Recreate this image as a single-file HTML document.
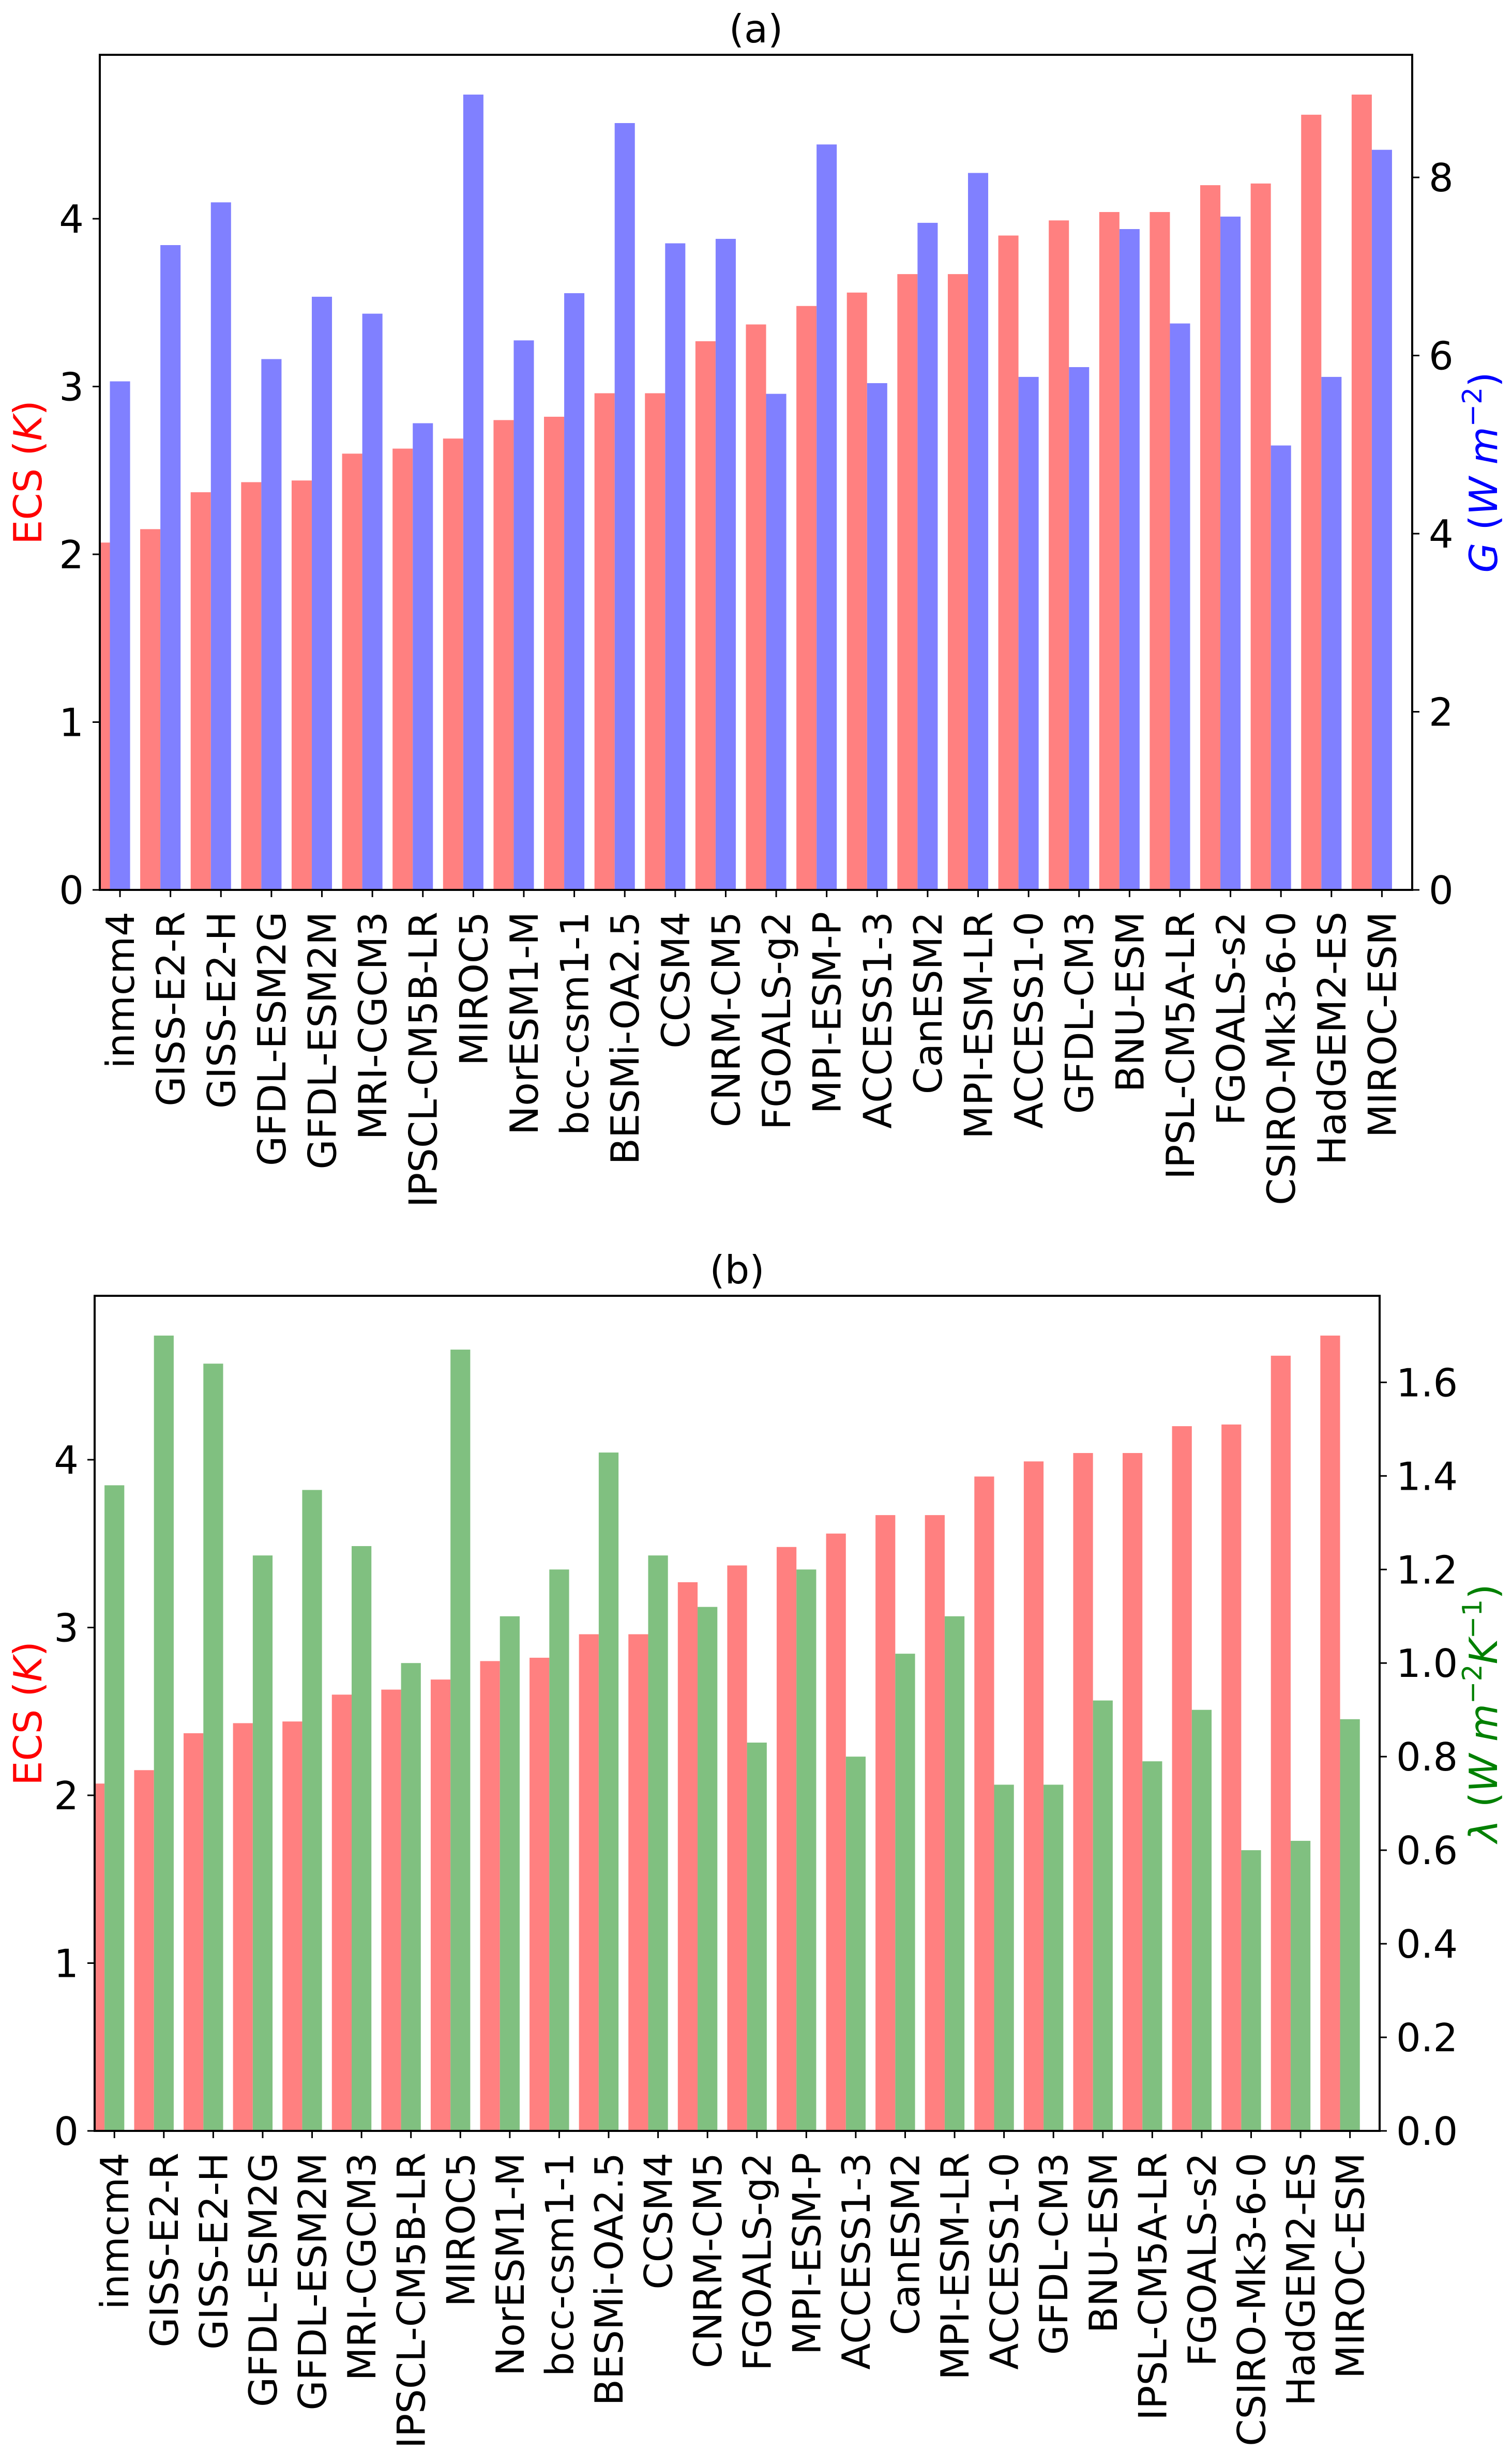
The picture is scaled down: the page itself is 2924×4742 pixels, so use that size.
<!DOCTYPE html>
<html><head><meta charset="utf-8"><title>ECS charts</title>
<style>html,body{margin:0;padding:0;background:#fff}svg{display:block}text{font-family:"DejaVu Sans","Liberation Sans",sans-serif}</style>
</head><body>
<svg id="fig" xmlns="http://www.w3.org/2000/svg" width="2924" height="4742" viewBox="0 0 2924 4742"></svg>
<script>
const models = ["inmcm4","GISS-E2-R","GISS-E2-H","GFDL-ESM2G","GFDL-ESM2M","MRI-CGCM3","IPSCL-CM5B-LR","MIROC5","NorESM1-M","bcc-csm1-1","BESMi-OA2.5","CCSM4","CNRM-CM5","FGOALS-g2","MPI-ESM-P","ACCESS1-3","CanESM2","MPI-ESM-LR","ACCESS1-0","GFDL-CM3","BNU-ESM","IPSL-CM5A-LR","FGOALS-s2","CSIRO-Mk3-6-0","HadGEM2-ES","MIROC-ESM"];
const ecs = [2.07,2.15,2.37,2.43,2.44,2.60,2.63,2.69,2.80,2.82,2.96,2.96,3.27,3.37,3.48,3.56,3.67,3.67,3.90,3.99,4.04,4.04,4.20,4.21,4.62,4.74];
const gVals = [5.71,7.24,7.72,5.96,6.66,6.47,5.24,8.93,6.17,6.70,8.61,7.26,7.31,5.57,8.37,5.69,7.49,8.05,5.76,5.87,7.42,6.36,7.56,4.99,5.76,8.31];
const lambdaVals = [1.38,1.70,1.64,1.23,1.37,1.25,1.00,1.67,1.10,1.20,1.45,1.23,1.12,0.83,1.20,0.80,1.02,1.10,0.74,0.74,0.92,0.79,0.90,0.60,0.62,0.88];
const ecsTicks = [0,1,2,3,4];
const gTicks = [0,2,4,6,8];
const lambdaTicks = [0,0.2,0.4,0.6,0.8,1.0,1.2,1.4,1.6];

const NS="http://www.w3.org/2000/svg";
const svg=document.getElementById('fig');
function el(tag,attrs,parent,text){const e=document.createElementNS(NS,tag);for(const k in attrs)e.setAttribute(k,attrs[k]);if(text!==undefined)e.textContent=text;(parent||svg).appendChild(e);return e;}

function panel(cfg){
  const g=el('g',{});
  
  
  const L=cfg.left,R=cfg.right,T=cfg.top,B=cfg.bottom;
  const n=models.length;
  const xs=v=>L+(v+0.4)/26*(R-L);
  const lMax=Math.max(...ecs)*1.05;
  const rMax=Math.max(...cfg.rVals)*1.05;
  const yl=v=>B-v/lMax*(B-T);
  const yr=v=>B-v/rMax*(B-T);
  const bw=0.4/26*(R-L);
  const clip=el('clipPath',{id:cfg.name+'-clip'},g);
  el('rect',{x:L,y:T,width:R-L,height:B-T},clip);
  const bars=el('g',{'clip-path':'url(#'+cfg.name+'-clip)'},g);
  for(let i=0;i<n;i++){
    const r=el('rect',{x:xs(i-0.6),y:yl(ecs[i]),width:bw,height:B-yl(ecs[i]),fill:'#ff8080'},bars);
    
    
    const b=el('rect',{x:xs(i-0.2),y:yr(cfg.rVals[i]),width:bw,height:B-yr(cfg.rVals[i]),fill:cfg.color},bars);
    
    
  }
  el('rect',{x:L,y:T,width:R-L,height:B-T,fill:'none',stroke:'#000','stroke-width':4},g);
  // x ticks
  for(let i=0;i<n;i++){
    const x=xs(i);
    el('line',{x1:x,y1:B,x2:x,y2:B+14,stroke:'#000','stroke-width':3},g);
    const t=el('text',{x:0,y:0,'font-size':75,'text-anchor':'end',transform:`translate(${x+27},${B+42}) rotate(-90)`},g,models[i]);
    
    
  }
  ecsTicks.forEach(v=>{const y=yl(v);
    el('line',{x1:L-14,y1:y,x2:L,y2:y,stroke:'#000','stroke-width':3},g);
    const t=el('text',{x:L-31,y:y+27,'font-size':75,'text-anchor':'end'},g,String(v));
    
    
  });
  cfg.rTicks.forEach(v=>{const y=yr(v);
    el('line',{x1:R,y1:y,x2:R+14,y2:y,stroke:'#000','stroke-width':3},g);
    const t=el('text',{x:R+32,y:y+27,'font-size':75,'text-anchor':'start'},g,cfg.fmt(v));
    
    
  });
  const title=el('text',{x:(L+R)/2,y:T-24,'font-size':75,'text-anchor':'middle'},g,cfg.title);
  
  
  const cy=(T+B)/2;
  const ly=el('text',{x:0,y:0,'font-size':75,'text-anchor':'middle',fill:'#ff0000',transform:`translate(80,${cy}) rotate(-90)`},g);
  
  
  ly.innerHTML='ECS (<tspan font-style="italic">K</tspan>)';
  const ry=el('text',{x:0,y:0,'font-size':75,'text-anchor':'middle',fill:cfg.labelColor,transform:`translate(2895,${cy}) rotate(-90)`},g);
  
  
  ry.innerHTML=cfg.rLabel;
}

panel({name:'panel-a',title:'(a)',left:193,right:2731,top:106,bottom:1721,rVals:gVals,rTicks:gTicks,color:'#8080ff',labelColor:'#0000ff',rName:'g',fmt:v=>String(v),
  rLabel:'<tspan font-style="italic">G</tspan> (<tspan font-style="italic">W m</tspan><tspan font-size="52" dy="-30">−2</tspan><tspan dy="30">)</tspan>'});
panel({name:'panel-b',title:'(b)',left:183,right:2668,top:2506,bottom:4121,rVals:lambdaVals,rTicks:lambdaTicks,color:'#80c080',labelColor:'#008000',rName:'lambda',fmt:v=>v.toFixed(1),
  rLabel:'<tspan font-style="italic">λ</tspan> (<tspan font-style="italic">W m</tspan><tspan font-size="52" dy="-30">−2</tspan><tspan dy="30" font-style="italic">K</tspan><tspan font-size="52" dy="-30">−1</tspan><tspan dy="30">)</tspan>'});
</script>
</body></html>
